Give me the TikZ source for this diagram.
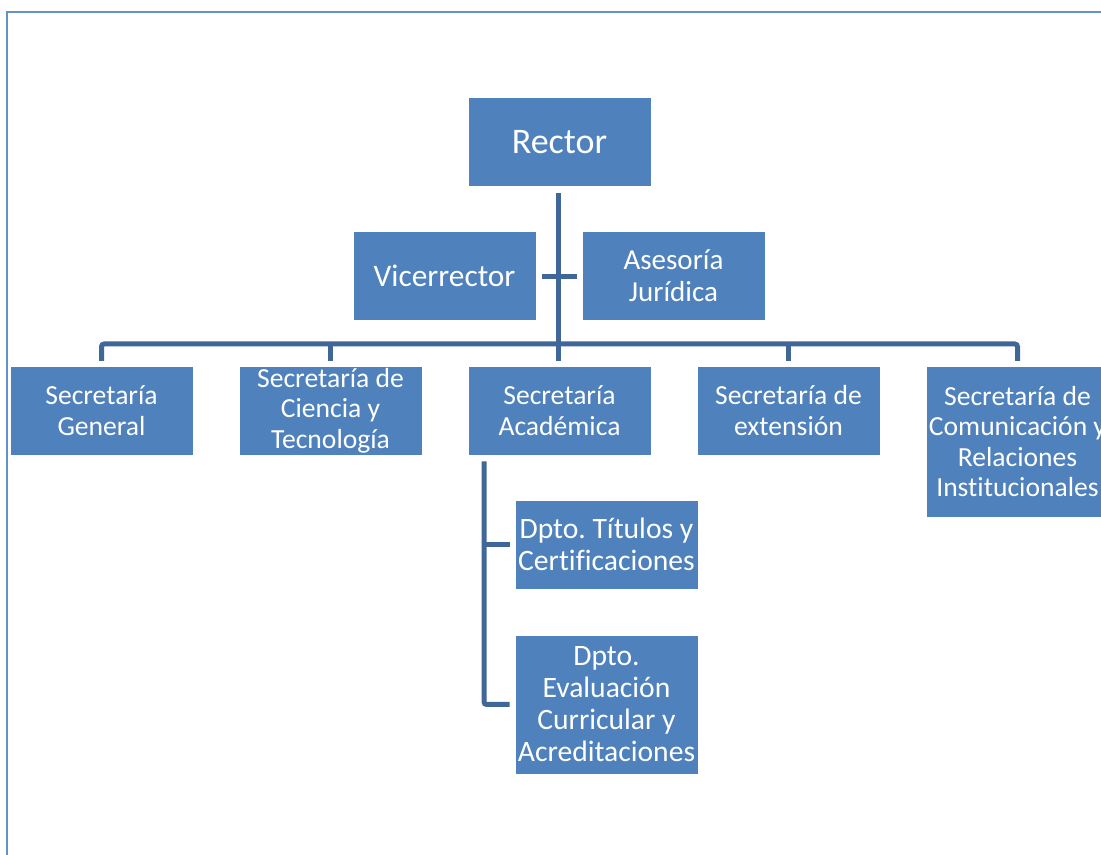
\documentclass[tikz,border=0pt]{standalone}
\usepackage{fontspec}
\setmainfont[Ligatures=NoCommon]{Carlito}
\frenchspacing
\definecolor{boxblue}{HTML}{4F81BD}
\definecolor{linkblue}{HTML}{3F6797}
\definecolor{framblue}{HTML}{6391CB}
\begin{document}
\begin{tikzpicture}[x=0.75pt,y=-0.75pt,
  orgbox/.style={fill=boxblue,draw=white,line width=0.5pt,text=white,inner sep=0pt,align=center,
    minimum width=137.25pt,minimum height=66.75pt},
  lvltwo/.style={orgbox,font=\fontsize{20.7}{22.8}\selectfont},
  dptbox/.style={orgbox,font=\fontsize{22.2}{24}\selectfont},
  conn/.style={draw=linkblue,line width=3.75pt,rounded corners=2pt}]
\useasboundingbox (0,0) rectangle (1101,855);
\clip (0,0) rectangle (1101,855);
\draw[framblue,line width=1.8pt] (7,12) rectangle (1120,880);
% nodes
\node[orgbox,font=\fontsize{27}{29}\selectfont] (rector) at (559.5,142) {Rector};
\node[orgbox,font=\fontsize{23.5}{25}\selectfont] (vice) at (444.5,276) {Vicerrector};
\node[orgbox,font=\fontsize{21.75}{24}\selectfont] (ases) at (673.5,276) {Asesoría\\Jurídica};
\node[lvltwo] (sg) at (101.5,410.5) {Secretaría\\General};
\node[lvltwo] (sct) at (330.5,410.5) {Secretaría de\\Ciencia y\\Tecnología};
\node[lvltwo] (sa) at (559.5,410.5) {Secretaría\\Académica};
\node[lvltwo] (se) at (788.5,410.5) {Secretaría de\\extensión};
\node[lvltwo,minimum height=113.25pt] (scr) at (1017.5,441.5) {Secretaría de\\Comunicación y\\Relaciones\\Institucionales};
\node[dptbox] (dt) at (606.5,544.5) {Dpto. Títulos y\\Certificaciones};
\node[dptbox,minimum height=104.25pt] (dev) at (606.5,704.5) {Dpto.\\Evaluación\\Curricular y\\Acreditaciones};
% connectors
\coordinate (bus) at (0,344);
\coordinate (drop) at (0,361);
\coordinate (trunk) at (558,0);
\coordinate (crossl) at (542,277);
\coordinate (crossr) at (577,277);
\draw[conn] ([yshift=-4.5pt]rector.south -| trunk) -- (trunk |- drop);
\draw[conn,rounded corners=0pt] (crossl) -- (crossr);
\draw[conn] (sg.north |- drop) -- (sg.north |- bus) -- (scr.north |- bus) -- (scr.north |- drop);
\draw[conn] (sct.north |- bus) -- (sct.north |- drop);
\draw[conn] (se.north |- bus) -- (se.north |- drop);
\coordinate (subx) at (484,0);
\draw[conn] ([yshift=-4.5pt]sa.south -| subx) -- (subx |- dev.west) -- ([xshift=-3.75pt]dev.west);
\draw[conn,rounded corners=0pt] (subx |- dt.west) -- ([xshift=-3.75pt]dt.west);
\end{tikzpicture}
\end{document}
